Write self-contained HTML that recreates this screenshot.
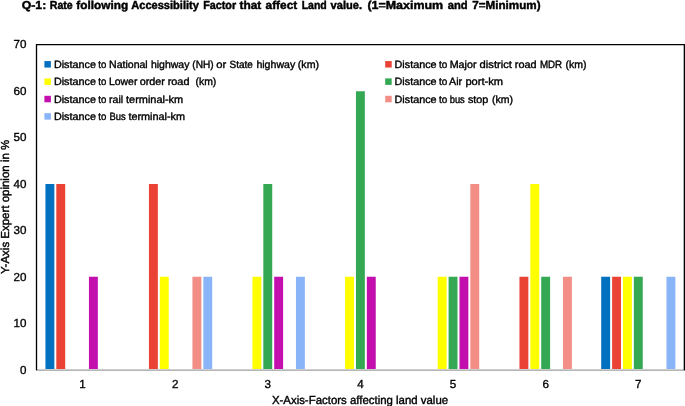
<!DOCTYPE html>
<html><head><meta charset="utf-8"><title>Chart</title>
<style>
html,body{margin:0;padding:0;background:#fff;}
body{width:685px;height:406px;overflow:hidden;}
svg{display:block;}
text{font-family:"Liberation Sans",sans-serif;fill:#000;text-rendering:geometricPrecision;}
.ax{font-size:11.6px;stroke:#000;stroke-width:0.35px;}
.lg{font-size:10.5px;stroke:#000;stroke-width:0.38px;}
.tt{font-size:11.5px;font-weight:bold;stroke:#000;stroke-width:0.45px;}
</style></head><body>
<svg width="685" height="406" viewBox="0 0 685 406">
<rect width="685" height="406" fill="#fff"/>
<rect x="45.44" y="184.00" width="8.9" height="185.50" fill="#0070c0"/>
<rect x="56.31" y="184.00" width="8.9" height="185.50" fill="#ea4335"/>
<rect x="88.94" y="276.75" width="8.9" height="92.75" fill="#c20fae"/>
<rect x="148.94" y="184.00" width="8.9" height="185.50" fill="#ea4335"/>
<rect x="159.82" y="276.75" width="8.9" height="92.75" fill="#ffff00"/>
<rect x="192.44" y="276.75" width="8.9" height="92.75" fill="#f28e86"/>
<rect x="203.32" y="276.75" width="8.9" height="92.75" fill="#8ab4f8"/>
<rect x="252.45" y="276.75" width="8.9" height="92.75" fill="#ffff00"/>
<rect x="263.32" y="184.00" width="8.9" height="185.50" fill="#34a853"/>
<rect x="274.20" y="276.75" width="8.9" height="92.75" fill="#c20fae"/>
<rect x="295.95" y="276.75" width="8.9" height="92.75" fill="#8ab4f8"/>
<rect x="345.08" y="276.75" width="8.9" height="92.75" fill="#ffff00"/>
<rect x="355.95" y="91.25" width="8.9" height="278.25" fill="#34a853"/>
<rect x="366.83" y="276.75" width="8.9" height="92.75" fill="#c20fae"/>
<rect x="437.71" y="276.75" width="8.9" height="92.75" fill="#ffff00"/>
<rect x="448.58" y="276.75" width="8.9" height="92.75" fill="#34a853"/>
<rect x="459.46" y="276.75" width="8.9" height="92.75" fill="#c20fae"/>
<rect x="470.33" y="184.00" width="8.9" height="185.50" fill="#f28e86"/>
<rect x="519.46" y="276.75" width="8.9" height="92.75" fill="#ea4335"/>
<rect x="530.34" y="184.00" width="8.9" height="185.50" fill="#ffff00"/>
<rect x="541.21" y="276.75" width="8.9" height="92.75" fill="#34a853"/>
<rect x="562.96" y="276.75" width="8.9" height="92.75" fill="#f28e86"/>
<rect x="601.22" y="276.75" width="8.9" height="92.75" fill="#0070c0"/>
<rect x="612.10" y="276.75" width="8.9" height="92.75" fill="#ea4335"/>
<rect x="622.97" y="276.75" width="8.9" height="92.75" fill="#ffff00"/>
<rect x="633.85" y="276.75" width="8.9" height="92.75" fill="#34a853"/>
<rect x="666.47" y="276.75" width="8.9" height="92.75" fill="#8ab4f8"/>
<rect x="36.2" y="369" width="648.8" height="1" fill="#cecece"/>
<rect x="36.2" y="370" width="648.8" height="1" fill="#b6b6b6"/>
<polyline points="36.5,370.3 36.5,44.65 684.35,44.65 684.35,370.3" fill="none" stroke="#000" stroke-width="1.32"/>
<rect x="44.4" y="61.05" width="6.5" height="6.5" fill="#0070c0"/>
<rect x="44.4" y="78.4" width="6.5" height="6.5" fill="#ffff00"/>
<rect x="44.4" y="95.8" width="6.5" height="6.5" fill="#c20fae"/>
<rect x="44.4" y="113.15" width="6.5" height="6.5" fill="#8ab4f8"/>
<rect x="385.2" y="61.05" width="6.5" height="6.5" fill="#ea4335"/>
<rect x="385.2" y="78.4" width="6.5" height="6.5" fill="#34a853"/>
<rect x="385.2" y="95.8" width="6.5" height="6.5" fill="#f28e86"/>
<g style="filter:grayscale(1)">
<text x="21.75" y="9.0" class="tt" textLength="24.50" lengthAdjust="spacingAndGlyphs">Q-1:</text>
<text x="49.75" y="9.0" class="tt" textLength="23.00" lengthAdjust="spacingAndGlyphs">Rate</text>
<text x="76.35" y="9.0" class="tt" textLength="51.80" lengthAdjust="spacingAndGlyphs">following</text>
<text x="131.25" y="9.0" class="tt" textLength="67.70" lengthAdjust="spacingAndGlyphs">Accessibility</text>
<text x="203.15" y="9.0" class="tt" textLength="33.00" lengthAdjust="spacingAndGlyphs">Factor</text>
<text x="239.45" y="9.0" class="tt" textLength="21.90" lengthAdjust="spacingAndGlyphs">that</text>
<text x="265.55" y="9.0" class="tt" textLength="31.70" lengthAdjust="spacingAndGlyphs">affect</text>
<text x="301.65" y="9.0" class="tt" textLength="25.10" lengthAdjust="spacingAndGlyphs">Land</text>
<text x="330.55" y="9.0" class="tt" textLength="31.50" lengthAdjust="spacingAndGlyphs">value.</text>
<text x="367.45" y="9.0" class="tt" textLength="75.70" lengthAdjust="spacingAndGlyphs">(1=Maximum</text>
<text x="447.75" y="9.0" class="tt" textLength="19.90" lengthAdjust="spacingAndGlyphs">and</text>
<text x="472.25" y="9.0" class="tt" textLength="68.30" lengthAdjust="spacingAndGlyphs">7=Minimum)</text>
<text x="26.4" y="374" text-anchor="end" class="ax">0</text>
<text x="26.4" y="327" text-anchor="end" class="ax">10</text>
<text x="26.4" y="281" text-anchor="end" class="ax">20</text>
<text x="26.4" y="234" text-anchor="end" class="ax">30</text>
<text x="26.4" y="188" text-anchor="end" class="ax">40</text>
<text x="26.4" y="141" text-anchor="end" class="ax">50</text>
<text x="26.4" y="95" text-anchor="end" class="ax">60</text>
<text x="26.4" y="48" text-anchor="end" class="ax">70</text>
<text x="82.52" y="387.6" text-anchor="middle" class="ax">1</text>
<text x="175.14" y="387.6" text-anchor="middle" class="ax">2</text>
<text x="267.77" y="387.6" text-anchor="middle" class="ax">3</text>
<text x="360.40" y="387.6" text-anchor="middle" class="ax">4</text>
<text x="453.03" y="387.6" text-anchor="middle" class="ax">5</text>
<text x="545.66" y="387.6" text-anchor="middle" class="ax">6</text>
<text x="638.30" y="387.6" text-anchor="middle" class="ax">7</text>
<text x="53.90" y="68" class="lg" textLength="42.10" lengthAdjust="spacingAndGlyphs">Distance</text>
<text x="98.30" y="68" class="lg" textLength="8.00" lengthAdjust="spacingAndGlyphs">to</text>
<text x="109.10" y="68" class="lg" textLength="38.60" lengthAdjust="spacingAndGlyphs">National</text>
<text x="150.90" y="68" class="lg" textLength="38.50" lengthAdjust="spacingAndGlyphs">highway</text>
<text x="192.30" y="68" class="lg" textLength="21.30" lengthAdjust="spacingAndGlyphs">(NH)</text>
<text x="216.20" y="68" class="lg" textLength="10.00" lengthAdjust="spacingAndGlyphs">or</text>
<text x="229.50" y="68" class="lg" textLength="23.30" lengthAdjust="spacingAndGlyphs">State</text>
<text x="256.40" y="68" class="lg" textLength="38.80" lengthAdjust="spacingAndGlyphs">highway</text>
<text x="297.80" y="68" class="lg" textLength="21.20" lengthAdjust="spacingAndGlyphs">(km)</text>
<text x="53.90" y="85" class="lg" textLength="42.10" lengthAdjust="spacingAndGlyphs">Distance</text>
<text x="98.30" y="85" class="lg" textLength="8.00" lengthAdjust="spacingAndGlyphs">to</text>
<text x="109.00" y="85" class="lg" textLength="28.40" lengthAdjust="spacingAndGlyphs">Lower</text>
<text x="139.70" y="85" class="lg" textLength="25.30" lengthAdjust="spacingAndGlyphs">order</text>
<text x="167.70" y="85" class="lg" textLength="21.80" lengthAdjust="spacingAndGlyphs">road</text>
<text x="195.50" y="85" class="lg" textLength="20.80" lengthAdjust="spacingAndGlyphs">(km)</text>
<text x="53.90" y="103" class="lg" textLength="42.10" lengthAdjust="spacingAndGlyphs">Distance</text>
<text x="98.30" y="103" class="lg" textLength="8.00" lengthAdjust="spacingAndGlyphs">to</text>
<text x="109.00" y="103" class="lg" textLength="14.10" lengthAdjust="spacingAndGlyphs">rail</text>
<text x="126.00" y="103" class="lg" textLength="57.20" lengthAdjust="spacingAndGlyphs">terminal-km</text>
<text x="53.90" y="120" class="lg" textLength="42.10" lengthAdjust="spacingAndGlyphs">Distance</text>
<text x="98.30" y="120" class="lg" textLength="8.00" lengthAdjust="spacingAndGlyphs">to</text>
<text x="109.40" y="120" class="lg" textLength="16.20" lengthAdjust="spacingAndGlyphs">Bus</text>
<text x="128.40" y="120" class="lg" textLength="56.70" lengthAdjust="spacingAndGlyphs">terminal-km</text>
<text x="394.50" y="68" class="lg" textLength="42.10" lengthAdjust="spacingAndGlyphs">Distance</text>
<text x="438.90" y="68" class="lg" textLength="8.30" lengthAdjust="spacingAndGlyphs">to</text>
<text x="449.70" y="68" class="lg" textLength="26.80" lengthAdjust="spacingAndGlyphs">Major</text>
<text x="479.60" y="68" class="lg" textLength="32.30" lengthAdjust="spacingAndGlyphs">district</text>
<text x="514.80" y="68" class="lg" textLength="21.80" lengthAdjust="spacingAndGlyphs">road</text>
<text x="539.90" y="68" class="lg" textLength="22.30" lengthAdjust="spacingAndGlyphs">MDR</text>
<text x="565.40" y="68" class="lg" textLength="21.00" lengthAdjust="spacingAndGlyphs">(km)</text>
<text x="394.50" y="85" class="lg" textLength="42.10" lengthAdjust="spacingAndGlyphs">Distance</text>
<text x="438.90" y="85" class="lg" textLength="8.30" lengthAdjust="spacingAndGlyphs">to</text>
<text x="449.10" y="85" class="lg" textLength="13.10" lengthAdjust="spacingAndGlyphs">Air</text>
<text x="465.40" y="85" class="lg" textLength="37.60" lengthAdjust="spacingAndGlyphs">port-km</text>
<text x="394.50" y="103" class="lg" textLength="42.10" lengthAdjust="spacingAndGlyphs">Distance</text>
<text x="438.90" y="103" class="lg" textLength="8.30" lengthAdjust="spacingAndGlyphs">to</text>
<text x="449.70" y="103" class="lg" textLength="15.10" lengthAdjust="spacingAndGlyphs">bus</text>
<text x="467.90" y="103" class="lg" textLength="20.40" lengthAdjust="spacingAndGlyphs">stop</text>
<text x="492.00" y="103" class="lg" textLength="21.00" lengthAdjust="spacingAndGlyphs">(km)</text>
<text x="360" y="403.7" text-anchor="middle" class="ax" style="font-size:11.6px;stroke-width:0.4px" textLength="176.2" lengthAdjust="spacingAndGlyphs">X-Axis-Factors affecting land value</text>
<text transform="translate(8.9 206.9) rotate(-90)" text-anchor="middle" class="ax" style="font-size:11.6px;stroke-width:0.4px" textLength="134.2" lengthAdjust="spacingAndGlyphs">Y-Axis Expert opinion in %</text>
</g>
</svg>
</body></html>
